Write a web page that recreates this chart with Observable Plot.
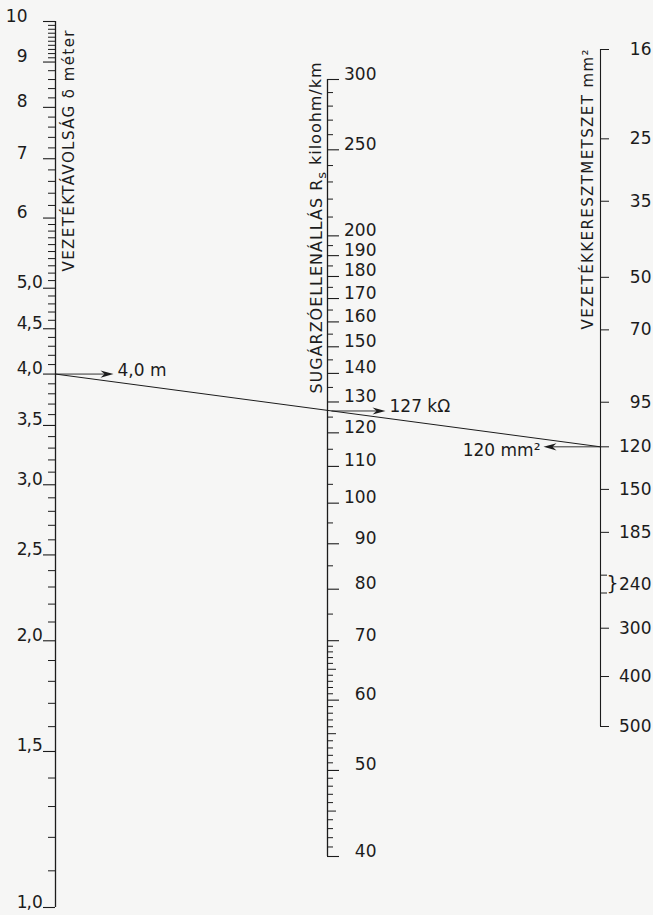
<!DOCTYPE html>
<html><head><meta charset="utf-8">
<script src="https://cdn.jsdelivr.net/npm/d3@7"></script>
<script src="https://cdn.jsdelivr.net/npm/@observablehq/plot@0.6"></script>
<style>html,body{margin:0;padding:0;background:#f6f6f5;}</style>
</head><body><div id="chart"></div>
<script>
// ---- Left scale: conductor spacing δ (m), logarithmic
const deltaValues = [1, 1.5, 2, 2.5, 3, 3.5, 4, 4.5, 5, 6, 7, 8, 9, 10];
const deltaLabels = ["1,0","1,5","2,0","2,5","3,0","3,5","4,0","4,5","5,0","6","7","8","9","10"];
const deltaMinor = [
  ...d3.range(10, 60).map(i => i / 10),
  ...d3.range(60, 90, 2).map(i => i / 10),
  ...d3.range(90, 100).map(i => i / 10)
].filter(v => !deltaValues.some(m => Math.abs(m - v) < 1e-6));

// ---- Middle scale: radiation resistance Rs (kiloohm/km), logarithmic
const rsValues = [40, 50, 60, 70, 80, 90, 100, 110, 120, 130, 140, 150, 160, 170, 180, 190, 200, 250, 300];
const rsMedium = [45, 55, 65];
const rsMinor = [...d3.range(40, 70), ...d3.range(70, 200, 5), ...d3.range(200, 300, 10)]
  .filter(v => !rsValues.includes(v) && !rsMedium.includes(v));

// ---- Right scale: conductor cross-section (mm²), placed by estimated conductor diameter (mm)
const sizeLabels = ["16","25","35","50","70","95","120","150","185","240","300","400","500"];
const sizeDiam   = [5.1, 6.4, 7.5, 9.1, 10.4, 12.5, 14.0, 15.6, 17.4, 19.85, 22.2, 25.1, 28.5];
const size240Diam = [19.4, 20.3];

// ---- Worked example
const exDelta = 4.0;
const exRs = 127;
const exSize = "120";

const titleLeft = "VEZETÉKTÁVOLSÁG δ méter";
const titleMidA = "SUGÁRZÓELLENÁLLÁS R";
const titleMidSub = "s";
const titleMidB = " kiloohm/km";
const titleMid = titleMidA + titleMidSub + titleMidB;
const titleRight = "VEZETÉKKERESZTMETSZET mm²";

// ---- layout
const XL = 55, XM = 327, XR = 600;
const ink = "#1c1c1c";

const yDelta = Plot.scale({y: {type: "log", domain: [1, 10], range: [907, 21]}});
const yRs = Plot.scale({y: {type: "log", domain: [40, 300], range: [856, 79]}});
const yDiam = Plot.scale({y: {type: "log", domain: [5.1, 28.5], range: [49, 726]}});

const yD = v => yDelta.apply(v);
const yR = v => yRs.apply(v);
const yS = v => yDiam.apply(v);

const exDiam = sizeDiam[sizeLabels.indexOf(exSize)];

const dartRight = {draw(c) { c.moveTo(0, 0); c.lineTo(-13, -3.6); c.lineTo(-9, 0); c.lineTo(-13, 3.6); c.closePath(); }};
const dartLeft  = {draw(c) { c.moveTo(0, 0); c.lineTo(13, -3.6); c.lineTo(9, 0); c.lineTo(13, 3.6); c.closePath(); }};

const fs = 17;
const sizeIdx = sizeLabels.map((s, i) => i);

const chart = Plot.plot({
  width: 653, height: 915, margin: 0,
  x: {type: "identity", axis: null},
  y: {type: "identity", axis: null},
  style: {background: "#f6f6f5", fontFamily: "DejaVu Sans", color: ink},
  marks: [
    // axis lines
    Plot.ruleX([0], {x: () => XL, y1: () => yD(1), y2: () => yD(10), stroke: ink, strokeWidth: 1.3}),
    Plot.ruleX([0], {x: () => XM, y1: () => yR(40), y2: () => yR(300), stroke: ink, strokeWidth: 1.3}),
    Plot.ruleX([0], {x: () => XR, y1: () => yS(sizeDiam[0]), y2: () => yS(sizeDiam[sizeDiam.length - 1]), stroke: ink, strokeWidth: 1.1}),

    // left ticks
    Plot.ruleY(deltaValues, {y: d => yD(d), x1: () => XL - 12, x2: () => XL, stroke: ink, strokeWidth: 1.1}),
    Plot.ruleY(deltaMinor, {y: d => yD(d), x1: () => XL - 7, x2: () => XL, stroke: ink, strokeWidth: 1}),
    // left labels (aligned on the decimal comma)
    Plot.text(deltaLabels, {x: () => 27, y: (d, i) => yD(deltaValues[i]), text: d => d.split(",")[0],
      textAnchor: "end", lineAnchor: "bottom", fontSize: fs, fill: ink}),
    Plot.text(deltaLabels.filter(d => d.includes(",")), {x: () => 26, y: d => yD(deltaValues[deltaLabels.indexOf(d)]),
      text: d => "," + d.split(",")[1], textAnchor: "start", lineAnchor: "bottom", fontSize: fs, fill: ink}),

    // middle ticks
    Plot.ruleY(rsValues, {y: d => yR(d), x1: () => XM, x2: () => XM + 12, stroke: ink, strokeWidth: 1.1}),
    Plot.ruleY(rsMedium, {y: d => yR(d), x1: () => XM, x2: () => XM + 9, stroke: ink, strokeWidth: 1}),
    Plot.ruleY(rsMinor, {y: d => yR(d), x1: () => XM, x2: () => XM + 6, stroke: ink, strokeWidth: 1}),
    Plot.text(rsValues, {x: () => 376, y: d => yR(d), text: d => String(d), textAnchor: "end", lineAnchor: "bottom", fontSize: fs, fill: ink}),

    // right ticks
    Plot.ruleY(sizeIdx.filter(i => sizeLabels[i] !== "240"), {y: i => yS(sizeDiam[i]), x1: () => XR, x2: () => XR + 9, stroke: ink, strokeWidth: 1}),
    Plot.ruleY(size240Diam, {y: d => yS(d), x1: () => XR, x2: () => XR + 7, stroke: ink, strokeWidth: 1}),
    Plot.text(sizeIdx, {x: () => 651, y: i => yS(sizeDiam[i]), text: i => sizeLabels[i], textAnchor: "end", lineAnchor: "middle", fontSize: fs, fill: ink}),
    Plot.text(["}"], {x: () => 606, y: () => yS(sizeDiam[sizeLabels.indexOf("240")]), text: d => d, textAnchor: "start", lineAnchor: "middle", fontSize: 19, fill: ink}),

    // titles
    Plot.text([titleLeft], {x: () => 69, y: () => 271, text: d => d, rotate: -90, textAnchor: "start", lineAnchor: "middle", fontSize: 15, fill: ink}),
    Plot.text([titleMid], {x: () => 316, y: () => 393, text: d => d, rotate: -90, textAnchor: "start", lineAnchor: "middle", fontSize: 16, fill: ink}),
    Plot.text([titleRight], {x: () => 588, y: () => 329, text: d => d, rotate: -90, textAnchor: "start", lineAnchor: "middle", fontSize: 15, fill: ink}),

    // worked example line
    Plot.link([0], {x1: () => XL, y1: () => yD(exDelta), x2: () => XR, y2: () => yS(exDiam), stroke: ink, strokeWidth: 1}),
    // pointer arrows
    Plot.link([0], {x1: () => XL, y1: () => yD(exDelta), x2: () => 106, y2: () => yD(exDelta), stroke: ink, strokeWidth: 0.9}),
    Plot.dot([0], {x: () => 113, y: () => yD(exDelta), symbol: dartRight, fill: ink, stroke: "none"}),
    Plot.link([0], {x1: () => XM + 4, y1: () => yR(exRs), x2: () => 378, y2: () => yR(exRs), stroke: ink, strokeWidth: 0.9}),
    Plot.dot([0], {x: () => 385, y: () => yR(exRs), symbol: dartRight, fill: ink, stroke: "none"}),
    Plot.link([0], {x1: () => XR, y1: () => yS(exDiam), x2: () => 550, y2: () => yS(exDiam), stroke: ink, strokeWidth: 0.9}),
    Plot.dot([0], {x: () => 543, y: () => yS(exDiam), symbol: dartLeft, fill: ink, stroke: "none"}),

    Plot.text([deltaLabels[deltaValues.indexOf(exDelta)] + " m"], {x: () => 117, y: () => yD(exDelta), dy: -4, text: d => d, textAnchor: "start", lineAnchor: "middle", fontSize: fs, fill: ink}),
    Plot.text([exRs + " kΩ"], {x: () => 389, y: () => yR(exRs), dy: -4, text: d => d, textAnchor: "start", lineAnchor: "middle", fontSize: fs, fill: ink}),
    Plot.text([exSize + " mm²"], {x: () => 540, y: () => yS(exDiam), dy: 4, text: d => d, textAnchor: "end", lineAnchor: "middle", fontSize: fs, fill: ink})
  ]
});

// stretch the axis titles to the lettering length of the original; subscript for Rs
const titleLen = new Map([[titleLeft, 241], [titleMid, 331], [titleRight, 280]]);
d3.select(chart).selectAll("text").each(function() {
  const t = this.textContent;
  const L = titleLen.get(t);
  if (!L) return;
  if (t === titleMid) {
    const sel = d3.select(this);
    sel.text(null);
    sel.append("tspan").text(titleMidA);
    sel.append("tspan").attr("dy", "0.3em").attr("font-size", "13").text(titleMidSub);
    sel.append("tspan").attr("dy", "-0.3em").text(titleMidB);
  }
  this.setAttribute("textLength", L);
  this.setAttribute("lengthAdjust", "spacing");
});

document.getElementById("chart").appendChild(chart);
</script>
</body></html>
